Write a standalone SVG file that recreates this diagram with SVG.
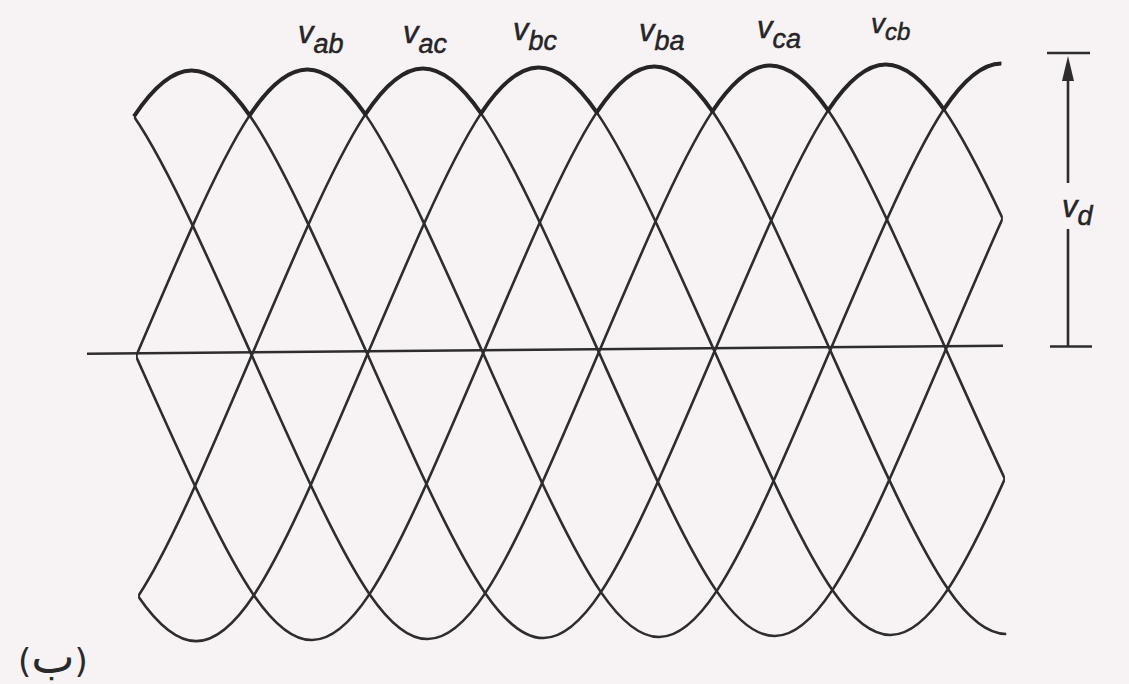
<svg xmlns="http://www.w3.org/2000/svg" xmlns:xlink="http://www.w3.org/1999/xlink" width="1129" height="684" viewBox="0 0 1129 684">
<style>
.c{fill:none;stroke:#2e2c2d;stroke-width:2.6;stroke-linejoin:round}
.env{fill:none;stroke:#262425;stroke-width:4;stroke-linejoin:round}
.ln{stroke:#2e2c2d;stroke-width:2.6;fill:none}
.lbl{font-family:"Liberation Sans",Arial,sans-serif;font-style:italic;fill:#262425;stroke:#262425;stroke-width:0.5}
</style>
<defs>
<path id="w" d="M0,-285.31 c19.28,0 38.57,16.9 57.85,45.42 c19.28,28.52 38.57,67.83 57.85,109.7 c19.28,41.87 38.57,86.2 57.85,130.19 c19.28,43.99 38.57,88.32 57.85,130.19 c19.28,41.87 38.57,81.18 57.85,109.7 c19.28,28.52 38.57,45.42 57.85,45.42 c19.28,0 38.57,-16.9 57.85,-45.42 c19.28,-28.52 38.57,-67.83 57.85,-109.7 c19.28,-41.87 38.57,-86.2 57.85,-130.19 c19.28,-43.99 38.57,-88.32 57.85,-130.19 c19.28,-41.87 38.57,-81.18 57.85,-109.7 c19.28,-28.52 38.57,-45.42 57.85,-45.42 c19.28,0 38.57,16.9 57.85,45.42 c19.28,28.52 38.57,67.83 57.85,109.7 c19.28,41.87 38.57,86.2 57.85,130.19 c19.28,43.99 38.57,88.32 57.85,130.19 c19.28,41.87 38.57,81.18 57.85,109.7 c19.28,28.52 38.57,45.42 57.85,45.42 c19.28,0 38.57,-16.9 57.85,-45.42 c19.28,-28.52 38.57,-67.83 57.85,-109.7 c19.28,-41.87 38.57,-86.2 57.85,-130.19 c19.28,-43.99 38.57,-88.32 57.85,-130.19 c19.28,-41.87 38.57,-81.18 57.85,-109.7 c19.28,-28.52 38.57,-45.42 57.85,-45.42 c19.28,0 38.57,16.9 57.85,45.42 c19.28,28.52 38.57,67.83 57.85,109.7 c19.28,41.87 38.57,86.2 57.85,130.19 c19.28,43.99 38.57,88.32 57.85,130.19 c19.28,41.87 38.57,81.18 57.85,109.7 c19.28,28.52 38.57,45.42 57.85,45.42 c19.28,0 38.57,-16.9 57.85,-45.42 c19.28,-28.52 38.57,-67.83 57.85,-109.7 c19.28,-41.87 38.57,-86.2 57.85,-130.19 c19.28,-43.99 38.57,-88.32 57.85,-130.19 c19.28,-41.87 38.57,-81.18 57.85,-109.7 c19.28,-28.52 38.57,-45.42 57.85,-45.42"/>
<clipPath id="clip"><rect x="136" y="0" width="867.75" height="684"/></clipPath>
</defs>
<rect width="1129" height="684" fill="#f7f3f5"/>
<g id="plot" transform="rotate(-0.5 570 349.5)">
<line id="axis" class="ln" x1="87" y1="349.5" x2="1003" y2="349.5"/>
<g id="curves" clip-path="url(#clip)">
<use id="curve-cb" href="#w" xlink:href="#w" class="c" transform="translate(-500.35 352.5)"/>
<use id="curve-ab" href="#w" xlink:href="#w" class="c" transform="translate(-384.65 352.5)"/>
<use id="curve-ac" href="#w" xlink:href="#w" class="c" transform="translate(-268.95 352.5)"/>
<use id="curve-bc" href="#w" xlink:href="#w" class="c" transform="translate(-153.25 352.5)"/>
<use id="curve-ba" href="#w" xlink:href="#w" class="c" transform="translate(-37.55 352.5)"/>
<use id="curve-ca" href="#w" xlink:href="#w" class="c" transform="translate(78.15 352.5)"/>
</g>
<path id="envelope" class="env" transform="translate(0 352.5)" d="M136,-239.89 c19.28,-28.52 38.57,-45.42 57.85,-45.42 c19.28,0 38.57,16.9 57.85,45.42 c19.28,-28.52 38.57,-45.42 57.85,-45.42 c19.28,0 38.57,16.9 57.85,45.42 c19.28,-28.52 38.57,-45.42 57.85,-45.42 c19.28,0 38.57,16.9 57.85,45.42 c19.28,-28.52 38.57,-45.42 57.85,-45.42 c19.28,0 38.57,16.9 57.85,45.42 c19.28,-28.52 38.57,-45.42 57.85,-45.42 c19.28,0 38.57,16.9 57.85,45.42 c19.28,-28.52 38.57,-45.42 57.85,-45.42 c19.28,0 38.57,16.9 57.85,45.42 c19.28,-28.52 38.57,-45.42 57.85,-45.42 c19.28,0 38.57,16.9 57.85,45.42 c19.28,-28.52 38.57,-45.42 57.85,-45.42"/>
</g>
<g id="labels" class="lbl">
<text id="lbl-ab" x="298" y="43" font-size="31">v<tspan dy="10" font-size="27">ab</tspan></text>
<text id="lbl-ac" x="403" y="43" font-size="31">v<tspan dy="10" font-size="27">ac</tspan></text>
<text id="lbl-bc" x="513" y="40" font-size="31">v<tspan dy="10" font-size="27">bc</tspan></text>
<text id="lbl-ba" x="639" y="41" font-size="31">v<tspan dy="9" font-size="27">ba</tspan></text>
<text id="lbl-ca" x="757" y="38" font-size="31">v<tspan dy="10" font-size="27">ca</tspan></text>
<text id="lbl-cb" x="871" y="33" font-size="28">v<tspan dy="7" font-size="24">cb</tspan></text>
</g>
<g id="vd">
<line class="ln" x1="1047" y1="53" x2="1090" y2="53"/>
<line class="ln" x1="1050" y1="346.5" x2="1092" y2="346.5"/>
<line class="ln" x1="1068" y1="78" x2="1068" y2="183"/>
<line class="ln" x1="1068" y1="229" x2="1068" y2="346.5"/>
<polygon points="1068,56 1062,81 1074,81" fill="#2e2c2d"/>
<text class="lbl" x="1062" y="217" font-size="31">v<tspan dy="8" font-size="27">d</tspan></text>
</g>
<text id="caption" x="18" y="673" font-family="'DejaVu Sans',sans-serif" font-size="34" fill="#2b2a2b">(<tspan font-size="46">ب</tspan>)</text>
</svg>
